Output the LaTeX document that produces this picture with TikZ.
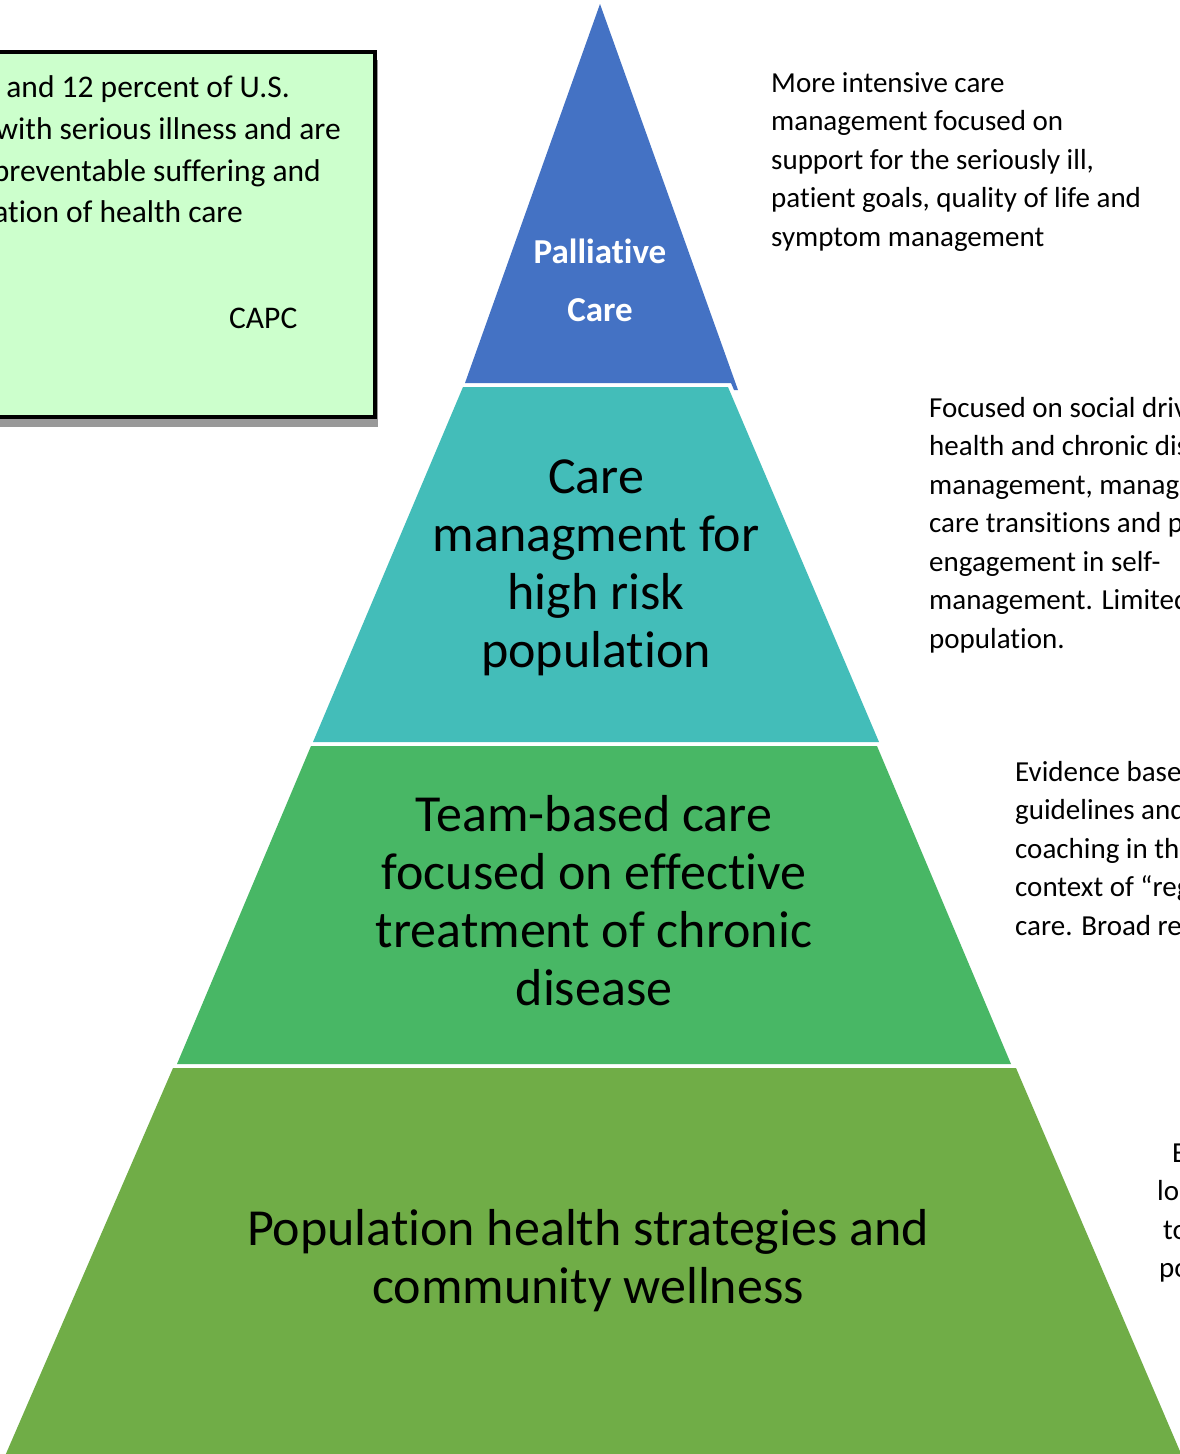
\documentclass[tikz,border=0pt]{standalone}
\usepackage{fontspec}
\setmainfont{Carlito}[Ligatures={NoCommon}]
\definecolor{palblue}{HTML}{4472C4}
\definecolor{tealc}{HTML}{43BDB9}
\definecolor{greenc}{HTML}{48B765}
\definecolor{olivec}{HTML}{70AD47}
\definecolor{boxgreen}{HTML}{CCFFCC}
\begin{document}
\begin{tikzpicture}[x=1pt,y=-1pt,
  side/.style={font=\fontsize{29}{35}\selectfont, anchor=base west, inner sep=0pt, text=black},
  boxtxt/.style={font=\fontsize{31.5}{38}\selectfont, anchor=base east, inner sep=0pt, text=black},
  tiertxt/.style={font=\fontsize{52}{58}\selectfont, anchor=base, inner sep=0pt, text=black},
  paltxt/.style={font=\fontsize{35}{40}\selectfont\bfseries, anchor=base, inner sep=0pt, text=white}]
\useasboundingbox (0,0) rectangle (1180,1454);
\clip (0,0) rectangle (1180,1454);
\fill[white] (0,0) rectangle (1180,1454);

% left box with shadow
\fill[black!40] (-20,60) rectangle (378,427);
\draw[line width=3.5pt, fill=boxgreen] (-20,52) rectangle (375,417);
\node[boxtxt] (l1) at (290,97) {and 12 percent of U.S.};
\node[boxtxt] (l2) at (341,139) {with serious illness and are};
\node[boxtxt] (l3) at (321,181) {preventable suffering and};
\node[boxtxt] (l4) at (243,222) {utilization of health care};
\node[font=\fontsize{31.5}{38}\selectfont, anchor=base west, inner sep=0pt] (capc) at (229,328) {CAPC};

% pyramid tiers
\fill[palblue] (600,4) -- (465,383) -- (731,383) -- (734,390) -- (738,390) -- cycle;
\fill[tealc] (463,387) -- (728,387) -- (879,742) -- (313,742) -- cycle;
\fill[greenc] (311,746) -- (877,746) -- (1011,1064) -- (177,1064) -- cycle;
\fill[olivec] (173,1068) -- (1016,1068) -- (1182,1456) -- (5,1456) -- cycle;

\node[paltxt] (pal1) at (600,263) {Palliative};
\node[paltxt] (pal2) at (600,321) {Care};

\node[tiertxt] (t1) at (596,493) {Care};
\node[tiertxt] (t2) at (596,551) {managment for};
\node[tiertxt] (t3) at (596,609) {high risk};
\node[tiertxt] (t4) at (596,667) {population};

\node[tiertxt] (g1) at (594,831) {Team-based care};
\node[tiertxt] (g2) at (594,889) {focused on effective};
\node[tiertxt] (g3) at (594,947) {treatment of chronic};
\node[tiertxt] (g4) at (594,1005) {disease};

\node[tiertxt] (o1) at (588,1245) {Population health strategies and};
\node[tiertxt] (o2) at (588,1303) {community wellness};

% right side texts
\node[side] (m1) at (771,92) {More intensive care};
\node[side] (m2) at (771,130.5) {management focused on};
\node[side] (m3) at (771,169) {support for the seriously ill,};
\node[side] (m4) at (771,207.5) {patient goals, quality of life and};
\node[side] (m5) at (771,246) {symptom management};

\node[side] (f1) at (929,417) {Focused on social drivers of};
\node[side] (f2) at (929,455.5) {health and chronic disease};
\node[side] (f3) at (929,494) {management, managing};
\node[side] (f4) at (929,532.5) {care transitions and patient};
\node[side] (f5) at (929,571) {engagement in self-};
\node[side] (f6) at (929,609.5) {management. Limited};
\node[side] (f7) at (929,648) {population.};

\node[side] (e1) at (1015,781) {Evidence based};
\node[side] (e2) at (1015,819.5) {guidelines and};
\node[side] (e3) at (1015,858) {coaching in the};
\node[side] (e4) at (1015,896.5) {context of “regular”};
\node[side] (e5) at (1015,935) {care. Broad reach};

\node[side] (b1) at (1172,1162) {E};
\node[side] (b2) at (1157,1200.5) {lo};
\node[side] (b3) at (1163,1239) {to};
\node[side] (b4) at (1159,1277.5) {po};
\end{tikzpicture}
\end{document}
